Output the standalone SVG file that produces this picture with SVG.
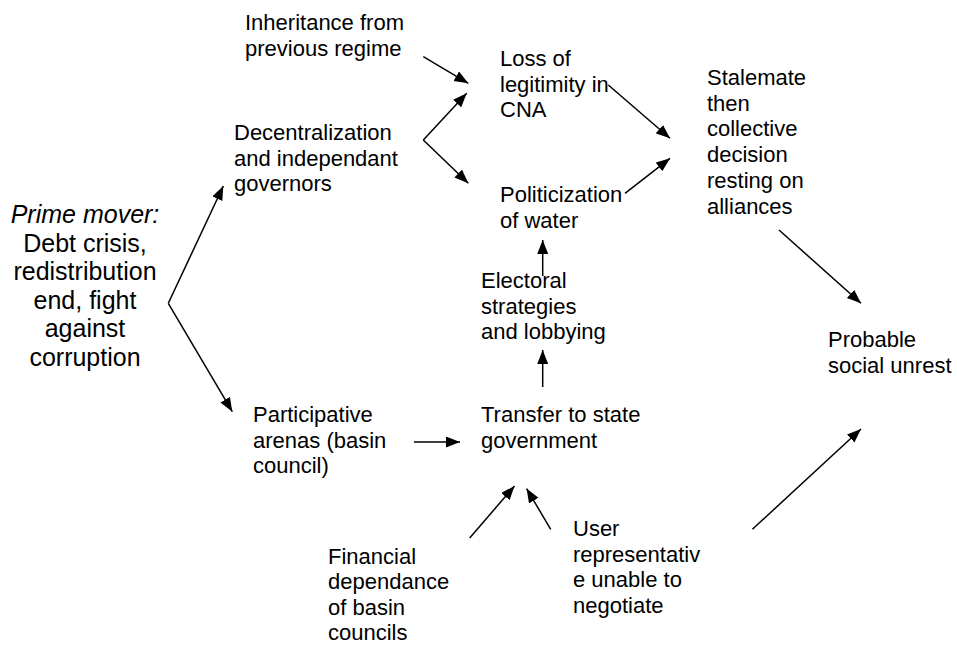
<svg xmlns="http://www.w3.org/2000/svg" width="957" height="648" viewBox="0 0 957 648">
<style>
text{font-family:"Liberation Sans",Arial,sans-serif;font-size:22px;fill:#000}
.pm{font-size:25px}
.conn line,.conn polyline{stroke:#000;stroke-width:1.5;fill:none;marker-end:url(#ah)}
</style>
<defs>
<marker id="ah" markerUnits="userSpaceOnUse" markerWidth="15" markerHeight="12" refX="14" refY="5.5" orient="auto">
<path d="M0,0 L14,5.5 L0,11 z" fill="#000"/>
</marker>
</defs>
<rect width="957" height="648" fill="#fff"/>
<g id="prime-mover" text-anchor="middle">
<text class="pm" x="85" y="223" font-style="italic">Prime mover:</text>
<text class="pm" x="85" y="251.5">Debt crisis,</text>
<text class="pm" x="85" y="280">redistribution</text>
<text class="pm" x="85" y="308.5">end, fight</text>
<text class="pm" x="85" y="337">against</text>
<text class="pm" x="85" y="365.5">corruption</text>
</g>
<g id="inheritance">
<text x="245" y="30">Inheritance from</text>
<text x="245" y="55.5">previous regime</text>
</g>
<g id="loss-legitimity">
<text x="500" y="66">Loss of</text>
<text x="500" y="91.5">legitimity in</text>
<text x="500" y="117">CNA</text>
</g>
<g id="stalemate">
<text x="707" y="85">Stalemate</text>
<text x="707" y="110.7">then</text>
<text x="707" y="136.4">collective</text>
<text x="707" y="162.1">decision</text>
<text x="707" y="187.8">resting on</text>
<text x="707" y="213.5">alliances</text>
</g>
<g id="decentralization">
<text x="234" y="140">Decentralization</text>
<text x="234" y="165.5">and independant</text>
<text x="234" y="191">governors</text>
</g>
<g id="politicization">
<text x="500" y="202">Politicization</text>
<text x="500" y="227.5">of water</text>
</g>
<g id="electoral">
<text x="481" y="288">Electoral</text>
<text x="481" y="313.5">strategies</text>
<text x="481" y="339">and lobbying</text>
</g>
<g id="social-unrest">
<text x="828" y="347">Probable</text>
<text x="828" y="372.5">social unrest</text>
</g>
<g id="transfer">
<text x="481" y="422">Transfer to state</text>
<text x="481" y="447.5">government</text>
</g>
<g id="participative">
<text x="253" y="422">Participative</text>
<text x="253" y="447.5">arenas (basin</text>
<text x="253" y="473">council)</text>
</g>
<g id="financial">
<text x="328" y="563.5">Financial</text>
<text x="328" y="589">dependance</text>
<text x="328" y="614.5">of basin</text>
<text x="328" y="640">councils</text>
</g>
<g id="user">
<text x="573" y="536">User</text>
<text x="573" y="561.5">representativ</text>
<text x="573" y="587">e unable to</text>
<text x="573" y="612.5">negotiate</text>
</g>
<g id="connectors" class="conn">
<line x1="168.3" y1="303.3" x2="223.3" y2="186"/>
<line x1="168.3" y1="303.3" x2="232.3" y2="411.7"/>
<line x1="423.3" y1="56.7" x2="468.3" y2="83.3"/>
<line x1="423.3" y1="140" x2="466.7" y2="93.3"/>
<line x1="423.3" y1="140" x2="468.3" y2="183.3"/>
<line x1="608.3" y1="85" x2="670" y2="138.3"/>
<line x1="625" y1="193.3" x2="670" y2="158.3"/>
<line x1="779" y1="230" x2="861" y2="303.3"/>
<line x1="542.7" y1="276" x2="542.7" y2="240"/>
<line x1="542.7" y1="387" x2="542.7" y2="350"/>
<line x1="414" y1="442" x2="460" y2="442"/>
<line x1="469.7" y1="538" x2="514.5" y2="486"/>
<line x1="550.7" y1="529.3" x2="526.6" y2="488.6"/>
<line x1="752.4" y1="529.3" x2="861" y2="429"/>
</g>
</svg>
